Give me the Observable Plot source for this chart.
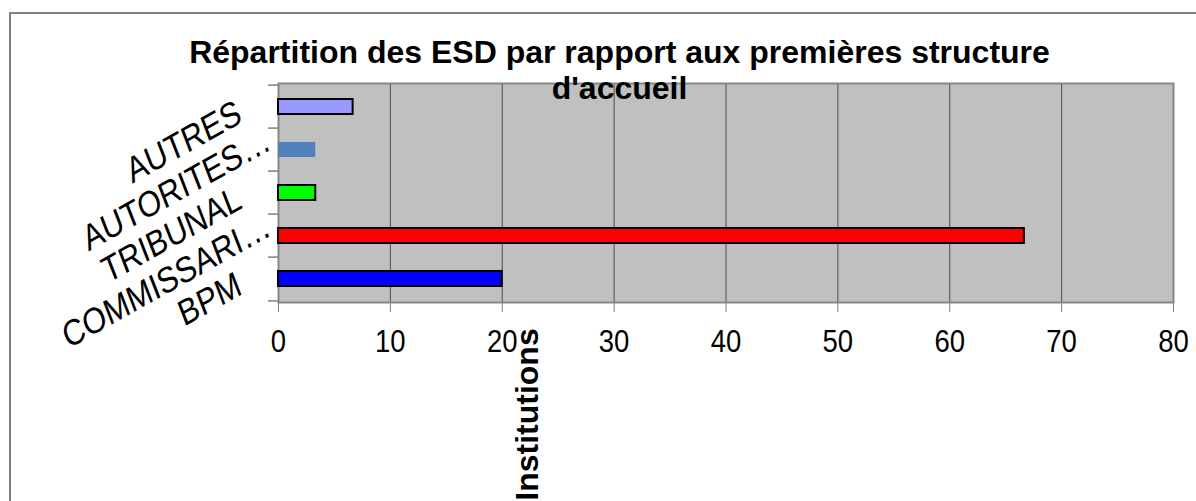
<!DOCTYPE html>
<html>
<head>
<meta charset="utf-8">
<script src="https://cdn.jsdelivr.net/npm/d3@7"></script>
<script src="https://cdn.jsdelivr.net/npm/@observablehq/plot@0.6"></script>
<style>
  html, body { margin: 0; padding: 0; background: #fff; }
  #wrap { position: relative; width: 1196px; height: 501px; overflow: hidden; font-family: "Liberation Sans", Arial, sans-serif; }
  #border { position: absolute; left: 9px; top: 12px; width: 1400px; height: 700px; border-left: 2px solid #7f7f7f; border-top: 2px solid #7f7f7f; box-sizing: border-box; }
  #chart { position: absolute; left: 0; top: 0; }
</style>
</head>
<body>
<div id="wrap"><div id="border"></div><div id="chart"></div></div>
<script>
// Data
const categories = ["AUTRES", "AUTORITES…", "TRIBUNAL", "COMMISSARI…", "BPM"];
const values = [6.67, 3.33, 3.33, 66.67, 20];
const barColors = ["#9999ff", "#4f81bd", "#00ff00", "#ff0000", "#0000ff"];
const xTicks = [0, 10, 20, 30, 40, 50, 60, 70, 80];
const titleText = "Répartition des ESD par rapport aux premières structure\nd'accueil";
const axisTitle = "Institutions";

const data = categories.map((c, i) => ({cat: c, value: values[i]}));
const truncated = categories.filter(c => c.endsWith("…"));
const plain = categories.filter(c => !c.endsWith("…"));

const W = 1196, H = 501;
const mL = 278, mR = 23, mT = 83, mB = 199;
const step = (H - mT - mB) / categories.length;
const font = "Liberation Sans, Arial, sans-serif";
const labelAngle = -25, labelStretch = 1.2, tickStretch = 1.12;

const chart = Plot.plot({
  width: W, height: H,
  marginLeft: mL, marginRight: mR, marginTop: mT, marginBottom: mB,
  style: {fontFamily: font, background: "transparent", color: "black", overflow: "visible"},
  x: {domain: [0, 80], ticks: xTicks, axis: null},
  y: {domain: categories, paddingInner: 0.64, paddingOuter: 0.32, axis: null},
  color: {domain: categories, range: barColors},
  marks: [
    Plot.frame({fill: "#c0c0c0", stroke: null}),
    Plot.gridX(xTicks.slice(1, -1), {stroke: "#4d4d4d", strokeOpacity: 1, strokeWidth: 1}),
    Plot.frame({stroke: "#878787", strokeWidth: 2}),
    Plot.barX(data, {
      y: "cat", x: "value", fill: "cat",
      stroke: d => d.cat === "AUTORITES…" ? "none" : "black",
      strokeWidth: 2
    }),
    Plot.axisX(xTicks, {tickSize: 10, tickPadding: 18, fontSize: 27.5, stroke: "#808080", fill: "black", label: null}),
    // category-boundary ticks on the y axis
    Plot.ruleY(categories, {y: d => d, x1: 0, x2: 0, insetLeft: -10, dy: -step / 2, stroke: "#808080", strokeWidth: 1.5}),
    Plot.ruleY(categories.slice(-1), {y: d => d, x1: 0, x2: 0, insetLeft: -10, dy: step / 2, stroke: "#808080", strokeWidth: 1.5}),
    // rotated category labels
    Plot.text(truncated, {y: d => d, frameAnchor: "left", text: d => d, textAnchor: "end", rotate: labelAngle, dx: -10, dy: -12, fontSize: 30.3, fill: "black"}),
    Plot.text(plain, {y: d => d, frameAnchor: "left", text: d => d, textAnchor: "end", rotate: labelAngle, dx: -39, dy: 4, fontSize: 30.3, fill: "black"}),
    // title
    Plot.text([titleText], {frameAnchor: "top-left", text: d => d, textAnchor: "middle", lineAnchor: "top", lineHeight: 1.13, dx: 341, dy: -46, fontSize: 32, fontWeight: "bold", fill: "black"}),
    // category axis title
    Plot.text([axisTitle], {frameAnchor: "bottom-left", text: d => d, textAnchor: "middle", rotate: -90, dx: 259, dy: 112, fontSize: 32, fontWeight: "bold", fill: "black"})
  ]
});

document.getElementById("chart").appendChild(chart);

// The original axis labels are drawn taller than wide: stretch them vertically in screen space.
function restyle(el, extra) {
  const ctm = el.getCTM();
  const pctm = el.parentNode.getCTM();
  const p = chart.createSVGPoint();
  p.x = ctm.e; p.y = ctm.f;
  const o = p.matrixTransform(pctm.inverse());
  el.setAttribute("transform", `translate(${o.x},${o.y}) ${extra}`);
}
const tickSet = new Set(xTicks.map(String));
d3.select(chart).selectAll("text").each(function () {
  const s = this.textContent;
  if (categories.includes(s)) restyle(this, `scale(1,${labelStretch}) rotate(${labelAngle})`);
  else if (tickSet.has(s)) restyle(this, `scale(1,${tickStretch})`);
});
</script>
</body>
</html>
